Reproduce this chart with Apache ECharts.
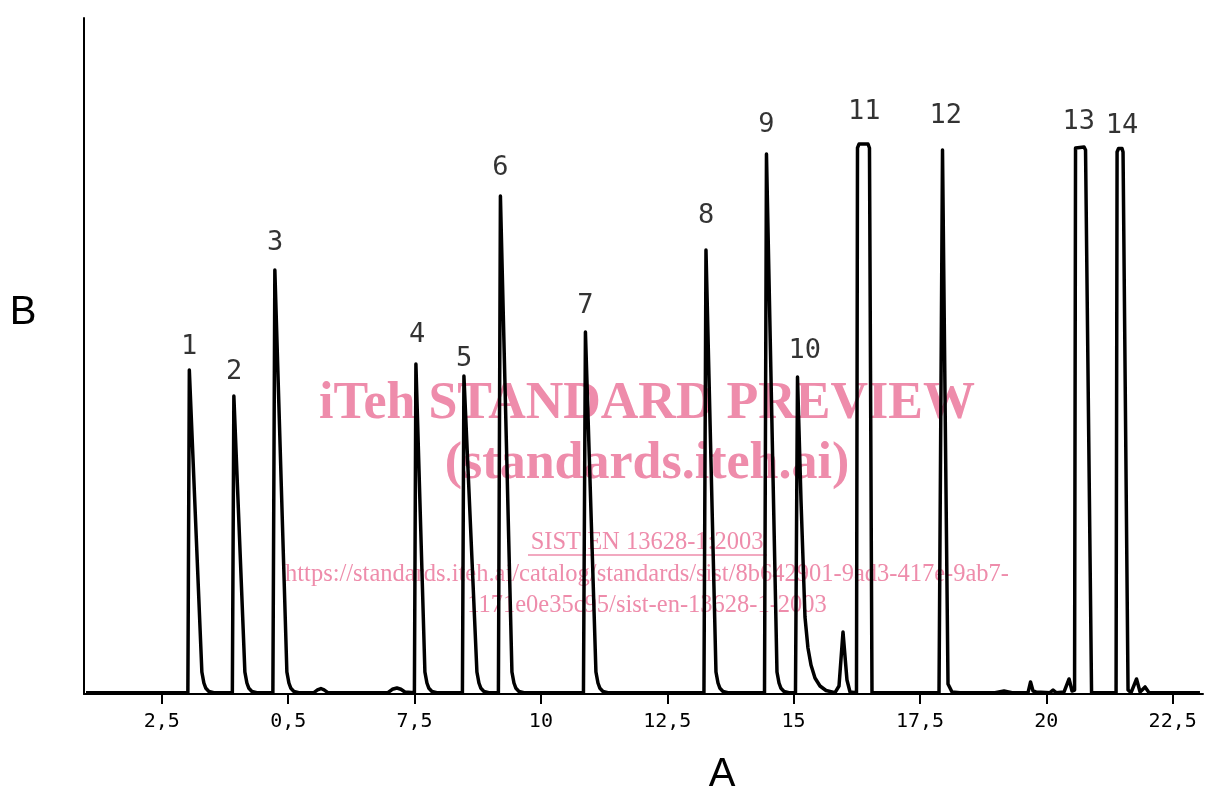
<!DOCTYPE html>
<html>
<head>
<meta charset="utf-8">
<title>Chromatogram</title>
<script src="https://cdn.jsdelivr.net/npm/echarts@6/dist/echarts.min.js"></script>
<style>
  html, body { margin: 0; padding: 0; background: #ffffff; }
  #chart { width: 1224px; height: 794px; }
</style>
</head>
<body>
<div id="chart"></div>
<script>
// axis A = retention, axis B = detector signal (0..100, top of the axis)
const tickValues = [2.5, 5, 7.5, 10, 12.5, 15, 17.5, 20, 22.5]
const tickLabels = ['2,5', '0,5', '7,5', '10', '12,5', '15', '17,5', '20', '22,5']

// peak numbers, apex positions
const peakNames = ['1', '2', '3', '4', '5', '6', '7', '8', '9', '10', '11', '12', '13', '14']
const peakTimes = [3.04, 3.93, 4.74, 7.53, 8.48, 9.2, 10.88, 13.27, 14.46, 15.08, 16.38, 17.95, 20.68, 21.46]
const peakHeights = [47.9, 44.1, 62.7, 48.8, 47.0, 73.7, 53.6, 65.7, 79.9, 46.9, 81.4, 80.5, 80.9, 80.7]

// detector trace [retention, signal]
const trace = [
  [1.0, 0.2], [3.015, 0.2], [3.044, 47.93], [3.292, 3.25], [3.332, 1.63], [3.371, 0.84], [3.431, 0.37], [3.529, 0.2],
  [3.895, 0.2], [3.925, 44.08], [4.143, 3.25], [4.183, 1.63], [4.222, 0.84], [4.282, 0.37], [4.38, 0.2],
  [4.697, 0.2], [4.736, 62.72], [4.974, 3.25], [5.014, 1.63], [5.053, 0.84], [5.113, 0.37], [5.211, 0.2],
  [5.508, 0.2], [5.58, 0.6], [5.647, 0.81], [5.71, 0.6], [5.785, 0.2],
  [6.973, 0.2], [7.06, 0.7], [7.151, 0.89], [7.23, 0.7], [7.309, 0.3],
  [7.497, 0.2], [7.527, 48.82], [7.705, 3.25], [7.745, 1.63], [7.784, 0.84], [7.844, 0.37], [7.942, 0.2],
  [8.447, 0.2], [8.477, 47.04], [8.734, 3.25], [8.774, 1.63], [8.813, 0.84], [8.873, 0.37], [8.971, 0.2],
  [9.159, 0.2], [9.199, 73.67], [9.427, 3.25], [9.467, 1.63], [9.506, 0.84], [9.566, 0.37], [9.664, 0.2],
  [10.842, 0.2], [10.881, 53.55], [11.089, 3.25], [11.129, 1.63], [11.168, 0.84], [11.228, 0.37], [11.326, 0.2],
  [13.226, 0.2], [13.266, 65.68], [13.464, 3.25], [13.504, 1.63], [13.543, 0.84], [13.603, 0.37], [13.701, 0.2],
  [14.424, 0.2], [14.463, 79.88], [14.671, 3.25], [14.711, 1.63], [14.75, 0.84], [14.81, 0.37], [14.908, 0.2],
  [15.037, 0.2], [15.077, 46.89], [15.146, 28.7], [15.225, 11.39], [15.284, 6.8], [15.344, 4.29],
  [15.423, 2.37], [15.522, 1.18], [15.641, 0.52], [15.819, 0.2],
  [15.898, 1.18], [15.977, 9.17], [16.056, 2.07], [16.116, 0.3], [16.244, 0.2],
  [16.264, 80.77], [16.294, 81.36], [16.472, 81.36], [16.501, 80.77], [16.551, 0.2], [16.709, 0.2],
  [17.877, 0.2], [17.946, 80.47], [18.015, 30.18], [18.055, 1.48], [18.134, 0.3], [18.293, 0.2],
  [18.985, 0.2], [19.163, 0.44], [19.322, 0.2],
  [19.638, 0.2], [19.688, 1.78], [19.737, 0.44], [19.797, 0.3], [20.074, 0.2], [20.133, 0.59],
  [20.192, 0.2], [20.351, 0.3], [20.45, 2.22], [20.509, 0.44], [20.559, 0.59],
  [20.578, 80.77], [20.608, 80.92], [20.747, 80.92], [20.776, 80.47], [20.895, 0.2], [21.063, 0.2],
  [21.38, 0.2], [21.4, 80.18], [21.429, 80.7], [21.498, 80.7], [21.518, 80.18], [21.617, 0.59],
  [21.677, 0.2], [21.785, 2.22], [21.855, 0.3], [21.954, 1.04], [22.033, 0.2], [23.04, 0.2]
]

const PINK = '#ee8cab'
const INK = '#000000'

// label nudges in px [dx, dy], one per peak number
const labelNudge = [
  [0, 2], [0, 2], [0, -2], [1, -4], [0, 8], [0, -2], [0, 0],
  [0, -8], [0, -3], [7, 0], [1, -6], [3, -8], [-2, 0], [2, 3]
]

const chart = echarts.init(document.getElementById('chart'), null, { renderer: 'canvas' })

const watermark = [
  { text: 'iTeh STANDARD PREVIEW', x: 647, y: 405, size: 52, weight: 'bold' },
  { text: '(standards.iteh.ai)', x: 647, y: 465, size: 52, weight: 'bold' },
  { text: 'SIST EN 13628-1:2003', x: 647, y: 543, size: 24.5, weight: 'normal' },
  { text: 'https://standards.iteh.ai/catalog/standards/sist/8b642901-9ad3-417e-9ab7-', x: 647, y: 575, size: 24.5, weight: 'normal' },
  { text: '1171e0e35c95/sist-en-13628-1-2003', x: 647, y: 606, size: 24.5, weight: 'normal' }
]

const option = {
  animation: false,
  backgroundColor: '#ffffff',
  grid: { left: 84, right: 21, top: 18, bottom: 100 },
  xAxis: {
    type: 'value',
    min: 0.96,
    max: 23.1,
    axisLine: { lineStyle: { color: INK, width: 2 } },
    axisTick: {
      customValues: tickValues,
      length: 10,
      lineStyle: { color: INK, width: 2 }
    },
    axisLabel: {
      customValues: tickValues,
      margin: 18,
      color: INK,
      fontFamily: 'DejaVu Sans Mono',
      fontSize: 20,
      formatter: (v) => {
        const i = tickValues.findIndex((t) => Math.abs(t - v) < 1e-6)
        return i >= 0 ? tickLabels[i] : ''
      }
    },
    splitLine: { show: false }
  },
  yAxis: {
    type: 'value',
    min: 0,
    max: 100,
    axisLine: { show: true, lineStyle: { color: INK, width: 2 } },
    axisTick: { show: false },
    axisLabel: { show: false },
    splitLine: { show: false }
  },
  graphic: [
    ...watermark.map((w) => ({
      type: 'text',
      z: 0,
      style: {
        x: w.x, y: w.y, text: w.text, fill: PINK,
        font: `${w.weight} ${w.size}px "Liberation Serif"`,
        textAlign: 'center', textVerticalAlign: 'middle'
      }
    })),
    { type: 'line', z: 0, shape: { x1: 528, y1: 555, x2: 767, y2: 555 }, style: { stroke: PINK, lineWidth: 1.5 } },
    {
      type: 'text', z: 10,
      style: { x: 722, y: 775, text: 'A', fill: INK, font: '40px "Liberation Sans"', textAlign: 'center', textVerticalAlign: 'middle' }
    },
    {
      type: 'text', z: 10,
      style: { x: 23, y: 313, text: 'B', fill: INK, font: '40px "Liberation Sans"', textAlign: 'center', textVerticalAlign: 'middle' }
    }
  ],
  series: [
    {
      type: 'line',
      z: 5,
      data: trace,
      showSymbol: false,
      smooth: false,
      lineStyle: { color: INK, width: 3.5, join: 'round' }
    },
    {
      type: 'scatter',
      z: 6,
      symbolSize: 0,
      data: peakTimes.map((t, i) => ({
        value: [t, peakHeights[i]],
        name: peakNames[i],
        label: { offset: labelNudge[i] }
      })),
      label: {
        show: true,
        position: 'top',
        distance: 12,
        formatter: (p) => p.name,
        color: INK,
        fontFamily: 'DejaVu Sans Mono',
        fontSize: 27
      }
    }
  ]
}

chart.setOption(option)
</script>
</body>
</html>
